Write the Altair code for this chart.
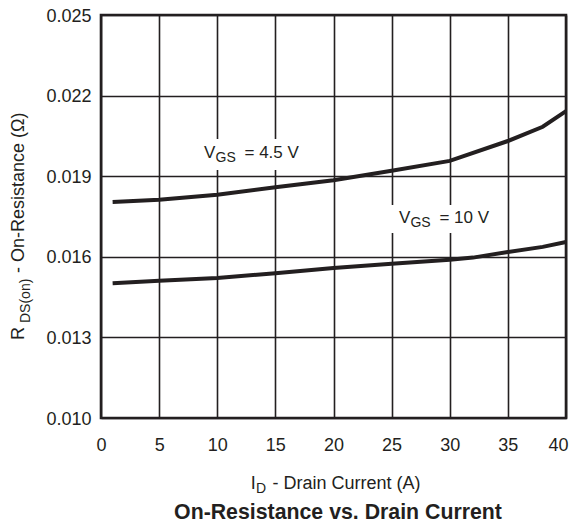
import altair as alt
import pandas as pd

# ---- data ----
I_45 = [1, 5, 10, 15, 20, 25, 30, 35, 38, 40]
R_45 = [0.01804, 0.01812, 0.01831, 0.01859, 0.01885, 0.01920, 0.01957, 0.02031, 0.02084, 0.02142]
I_10 = [1, 5, 10, 15, 20, 25, 30, 32, 35, 38, 40]
R_10 = [0.01502, 0.01511, 0.01521, 0.01539, 0.01558, 0.01574, 0.01589, 0.01597, 0.01618, 0.01637, 0.01655]

X_TICKS = [0, 5, 10, 15, 20, 25, 30, 35, 40]
Y_TICKS = [0.010, 0.013, 0.016, 0.019, 0.022, 0.025]

LABEL_MAIN = ["V", "V"]
LABEL_SUB = ["GS", "GS"]
LABEL_REST = ["= 4.5 V", "= 10 V"]
LABEL_I = [8.86, 25.63]
LABEL_R = [0.01969, 0.01725]

BOX_I1 = [8.5, 24.7]
BOX_I2 = [17.5, 33.9]
BOX_R1 = [0.01923, 0.01689]
BOX_R2 = [0.02038, 0.01793]

curves = pd.DataFrame({
    "I": I_45 + I_10,
    "R": R_45 + R_10,
    "series": ["4.5 V"] * len(I_45) + ["10 V"] * len(I_10),
})
labels = pd.DataFrame({"I": LABEL_I, "R": LABEL_R, "main": LABEL_MAIN,
                       "sub": LABEL_SUB, "rest": LABEL_REST})
boxes = pd.DataFrame({"I": BOX_I1, "i2": BOX_I2, "R": BOX_R1, "r2": BOX_R2})

INK = "#231f20"
FONT = "Liberation Sans"

xscale = alt.Scale(domain=[0, 40], nice=False, zero=False)
yscale = alt.Scale(domain=[0.010, 0.025], nice=False, zero=False)

xaxis = alt.Axis(values=X_TICKS, title=None, grid=True, gridColor=INK, gridWidth=1.6,
                 gridOpacity=1, domain=False, ticks=False, tickSize=0, labelFontSize=18,
                 labelPadding=18, labelColor=INK, labelFont=FONT, labelFlush=False,
                 labelAlign={"expr": "datum.value == 40 ? 'right' : 'center'"},
                 labelOffset={"expr": "datum.value == 40 ? 2 : 0"})
yaxis = alt.Axis(values=Y_TICKS, format=".3f", title=None, grid=True, gridColor=INK,
                 gridWidth=1.6, gridOpacity=1, domain=False, ticks=False, tickSize=0,
                 labelFontSize=18, labelPadding=10, labelColor=INK, labelFont=FONT,
                 labelFlush=False, labelOffset=1)

X = alt.X("I:Q", scale=xscale, axis=xaxis)
Y = alt.Y("R:Q", scale=yscale, axis=yaxis)

rects = alt.Chart(boxes).mark_rect(color="white", opacity=1).encode(
    x=X, x2="i2:Q", y=Y, y2="r2:Q",
)

lines = alt.Chart(curves).mark_line(strokeWidth=4, color=INK, strokeCap="butt").encode(
    x=X, y=Y, detail="series:N",
)

lab_base = alt.Chart(labels).encode(x=X, y=Y)
lab_main = lab_base.mark_text(align="left", baseline="alphabetic", fontSize=17,
                              font=FONT, color=INK).encode(text="main:N")
lab_sub = lab_base.mark_text(align="left", baseline="alphabetic", fontSize=14,
                             font=FONT, color=INK, dx=11.5, dy=4).encode(text="sub:N")
lab_rest = lab_base.mark_text(align="left", baseline="alphabetic", fontSize=17,
                              font=FONT, color=INK, dx=40.5).encode(text="rest:N")


def txt(s, x, y, size=18, angle=0, weight="normal", align="left"):
    return alt.Chart(pd.DataFrame({"t": [s]})).mark_text(
        align=align, baseline="alphabetic", fontSize=size, font=FONT, color=INK,
        angle=angle, fontWeight=weight,
    ).encode(x=alt.value(x), y=alt.value(y), text="t:N")


# x-axis title: I_D - Drain Current (A)
xt1 = txt("I", 149.7, 474.3)
xt2 = txt("D", 155.0, 477.7, size=14)
xt3 = txt("- Drain Current (A)", 171.5, 474.3)
# y-axis title: R_DS(on) - On-Resistance (Ω)
yt1 = txt("R", -77.5, 325, angle=270)
yt2 = txt("DS(on)", -71.0, 308, size=14, angle=270)
yt3 = txt("- On-Resistance (Ω)", -77.5, 258, angle=270)
# chart title
tt = txt("On-Resistance vs. Drain Current", 237, 504, size=21.3, weight="bold", align="center")

chart = alt.layer(
    rects, lines, lab_main, lab_sub, lab_rest, xt1, xt2, xt3, yt1, yt2, yt3, tt
).properties(
    width=465, height=403, autosize="none",
    padding={"left": 93, "top": 7, "right": 3, "bottom": 107},
).configure_view(
    stroke=INK, strokeWidth=2.6, fill="white"
)

chart.save("out.html", embed_options={"renderer": "svg", "actions": False})
